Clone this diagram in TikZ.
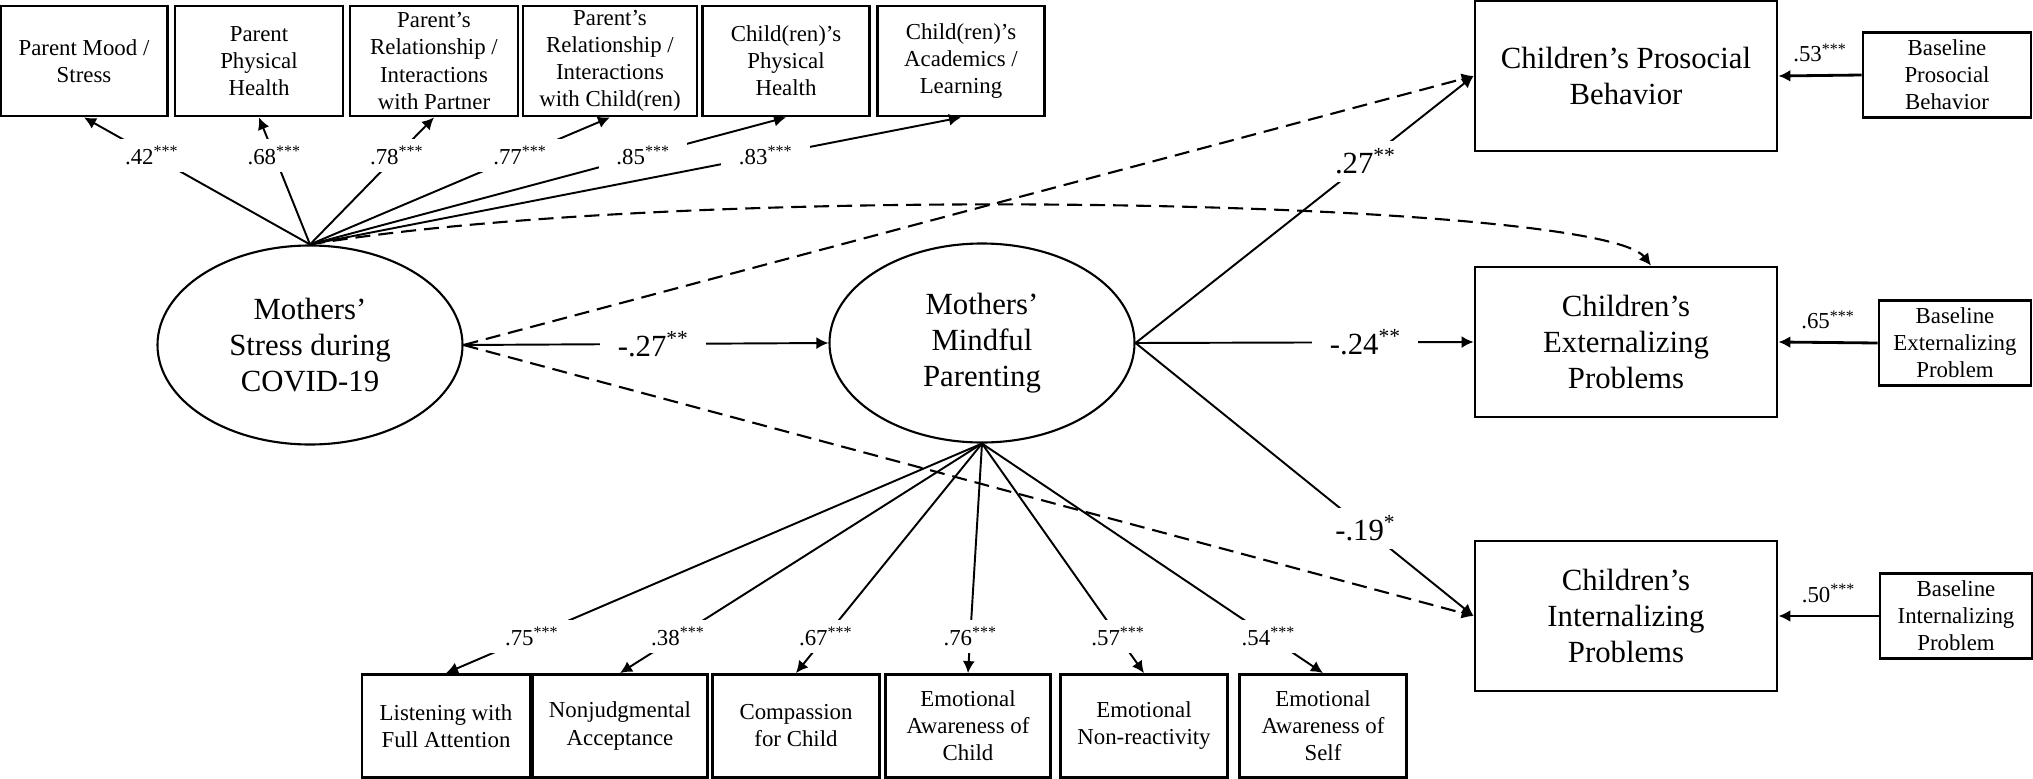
\documentclass[tikz,border=0pt]{standalone}
\usepackage{fontspec}
\setmainfont{Liberation Serif}
\usetikzlibrary{arrows.meta,shapes.geometric}
\newcommand{\mpsmall}{\fontsize{13}{15.4}\selectfont}
\newcommand{\mplarge}{\fontsize{17.5}{20.5}\selectfont}
\tikzset{
    indbox/.style={draw,line width=1.6pt,align=center,inner sep=0pt,font=\mpsmall,minimum height=22mm},
    outbox/.style={draw,line width=1.6pt,align=center,inner sep=0pt,font=\mplarge,minimum width=60.4mm,minimum height=30mm},
    basebox/.style={draw,line width=1.6pt,align=center,inner sep=0pt,font=\mpsmall,minimum height=17mm},
    latent/.style={draw,ellipse,line width=1.2pt,align=center,inner sep=0pt,font=\mplarge,minimum width=61mm,minimum height=39.8mm},
    loadline/.style={line width=1.1pt,->},
    dashpath/.style={line width=1.2pt,dash pattern=on 3mm off 1.6mm,->},
    coef/.style={fill=white,font=\mpsmall,inner xsep=3.5mm,inner ysep=1.5mm},
    pcoef/.style={fill=white,font=\mplarge,inner xsep=3.5mm,inner ysep=1.5mm}
}

\begin{document}
\begin{tikzpicture}[x=0.2mm,y=-0.2mm,>={Latex[length=2.4mm,width=2.4mm]}]
    \useasboundingbox (0,0) rectangle (2033,779);

    \node[indbox,minimum width=33.4mm] (pmood) at (84,61) {Parent Mood /\\Stress};
    \node[indbox,minimum width=33.6mm] (phealth) at (259,61) {Parent\\Physical\\Health};
    \node[indbox,minimum width=33.6mm] (prelpart) at (434,61) {Parent’s\\Relationship /\\Interactions\\with Partner};
    \node[indbox,minimum width=34.8mm] (prelchild) at (610,61) {Parent’s\\Relationship /\\Interactions\\with Child(ren)};
    \node[indbox,minimum width=33.4mm] (chealth) at (786,61) {Child(ren)’s\\Physical\\Health};
    \node[indbox,minimum width=33.4mm] (cacad) at (961,61) {Child(ren)’s\\Academics /\\Learning};

    \node[latent] (stress) at (310,345) {Mothers’\\Stress during\\COVID-19};
    \node[latent] (mindful) at (982,343) {Mothers’\\Mindful\\Parenting};

    \node[outbox] (prosoc) at (1626,76) {Children’s Prosocial\\Behavior};
    \node[outbox] (extern) at (1626,342) {Children’s\\Externalizing\\Problems};
    \node[outbox] (intern) at (1626,616) {Children’s\\Internalizing\\Problems};

    \node[basebox,minimum width=33.6mm] (bprosoc) at (1947,75) {Baseline\\Prosocial\\Behavior};
    \node[basebox,minimum width=30.4mm] (bextern) at (1955,343) {Baseline\\Externalizing\\Problem};
    \node[basebox,minimum width=30.4mm] (bintern) at (1956,616) {Baseline\\Internalizing\\Problem};

    \node[indbox,minimum width=33.6mm,minimum height=20.6mm] (listen) at (446,726) {Listening with\\Full Attention};
    \node[indbox,minimum width=35mm,minimum height=20.6mm] (nonjudge) at (620,726) {Nonjudgmental\\Acceptance};
    \node[indbox,minimum width=33.4mm,minimum height=20.6mm] (compass) at (796,726) {Compassion\\for Child};
    \node[indbox,minimum width=33mm,minimum height=20.6mm] (awchild) at (968,726) {Emotional\\Awareness of\\Child};
    \node[indbox,minimum width=33.4mm,minimum height=20.6mm] (nonreact) at (1144,726) {Emotional\\Non-reactivity};
    \node[indbox,minimum width=33.4mm,minimum height=20.6mm] (awself) at (1323,726) {Emotional\\Awareness of\\Self};

    \draw[dashpath] (stress.east) -- (prosoc.west);
    \draw[dashpath] (stress.east) -- (intern.west);
    \draw[dashpath] (stress.north) .. controls (700,180) and (1600,200) .. ([xshift=5mm]extern.north);

    \draw[loadline] (stress.north) -- node[coef,pos=0.7] {.42\textsuperscript{***}} (pmood.south);
    \draw[loadline] (stress.north) -- node[coef,pos=0.7] {.68\textsuperscript{***}} (phealth.south);
    \draw[loadline] (stress.north) -- node[coef,pos=0.7] {.78\textsuperscript{***}} (prelpart.south);
    \draw[loadline] (stress.north) -- node[coef,pos=0.7] {.77\textsuperscript{***}} (prelchild.south);
    \draw[loadline] (stress.north) -- node[coef,pos=0.7] {.85\textsuperscript{***}} (chealth.south);
    \draw[loadline] (stress.north) -- node[coef,pos=0.7] {.83\textsuperscript{***}} (cacad.south);

    \draw[loadline] (mindful.south) -- node[coef,pos=0.84] {.75\textsuperscript{***}} (listen.north);
    \draw[loadline] (mindful.south) -- node[coef,pos=0.84] {.38\textsuperscript{***}} (nonjudge.north);
    \draw[loadline] (mindful.south) -- node[coef,pos=0.84] {.67\textsuperscript{***}} (compass.north);
    \draw[loadline] (mindful.south) -- node[coef,pos=0.84] {.76\textsuperscript{***}} (awchild.north);
    \draw[loadline] (mindful.south) -- node[coef,pos=0.84] {.57\textsuperscript{***}} (nonreact.north);
    \draw[loadline] (mindful.south) -- node[coef,pos=0.84] {.54\textsuperscript{***}} (awself.north);

    \draw[loadline] (stress.east) -- node[pcoef,pos=0.52] {-.27\textsuperscript{**}} (mindful.west);
    \draw[loadline] (mindful.east) -- node[pcoef,pos=0.68] {.27\textsuperscript{**}} (prosoc.west);
    \draw[loadline] (mindful.east) -- node[pcoef,pos=0.68] {-.24\textsuperscript{**}} (extern.west);
    \draw[loadline] (mindful.east) -- node[pcoef,pos=0.68] {-.19\textsuperscript{*}} (intern.west);

    \draw[->,line width=1.6pt] (bprosoc.west) -- node[above=1.2mm,font=\mpsmall] {.53\textsuperscript{***}} (prosoc.east);
    \draw[->,line width=1.6pt] (bextern.west) -- node[above=1.2mm,font=\mpsmall] {.65\textsuperscript{***}} (extern.east);
    \draw[->,line width=1.6pt] (bintern.west) -- node[above=1.2mm,font=\mpsmall] {.50\textsuperscript{***}} (intern.east);
\end{tikzpicture}
\end{document}
